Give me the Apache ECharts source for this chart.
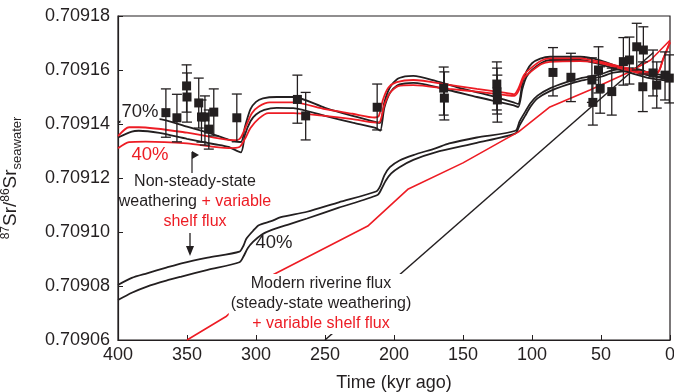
<!DOCTYPE html>
<html>
<head>
<meta charset="utf-8">
<script src="https://cdn.jsdelivr.net/npm/echarts@6/dist/echarts.min.js"></script>
<style>
 html,body{margin:0;padding:0;background:#fff;}
 #chart{width:674px;height:392px;}
</style>
</head>
<body>
<div id="chart"></div>
<script>
// ages in kyr ago, values are 87Sr/86Sr
var ageTicks = [400, 350, 300, 250, 200, 150, 100, 50, 0];
var srTicks = [0.70906, 0.70908, 0.70910, 0.70912, 0.70914, 0.70916, 0.70918];

// non-steady-state weathering + variable shelf flux (upper band)
var nsBlackHi = [[400,0.7091405],[392,0.709142],[371,0.7091419],[350,0.709139],[330,0.709136],[320,0.7091342],[311,0.7091333],[308,0.709139],[304,0.7091455],[300,0.7091482],[295,0.7091495],[285,0.70915],[273,0.70915],[250,0.709146],[230,0.709143],[213,0.7091407],[210,0.7091404],[207,0.709148],[203,0.7091535],[198,0.7091565],[192,0.7091576],[186,0.7091578],[170,0.709156],[150,0.709153],[130,0.7091505],[114,0.7091481],[110,0.7091474],[107,0.709155],[104,0.7091595],[100,0.7091625],[94,0.7091642],[87,0.7091649],[65,0.7091649],[50,0.7091635],[31,0.70916],[15,0.709158],[0,0.709157]];
var nsRedHi = [[400,0.7091355],[392,0.7091388],[385,0.7091388],[350,0.7091368],[320,0.7091341],[314,0.709134],[311,0.709135],[307,0.7091395],[303,0.709144],[298,0.7091465],[290,0.709148],[273,0.709148],[250,0.7091455],[230,0.7091438],[214,0.7091424],[211,0.709143],[208,0.709149],[204,0.7091535],[198,0.7091555],[186,0.7091563],[160,0.7091545],[140,0.709153],[119,0.7091515],[113,0.709151],[110,0.709153],[106,0.709158],[101,0.7091606],[93,0.7091635],[87,0.7091643],[65,0.7091643],[50,0.709163],[31,0.7091607],[19,0.7091593],[9,0.7091593],[5,0.709164],[0,0.70917]];
var nsBlackLo = [[400,0.709135],[390,0.7091372],[385,0.7091375],[370,0.7091367],[350,0.7091345],[330,0.7091325],[320,0.7091315],[311,0.7091295],[308,0.709136],[304,0.709141],[300,0.7091435],[294,0.7091452],[285,0.709146],[273,0.7091459],[250,0.709143],[230,0.7091405],[213,0.7091385],[210,0.7091375],[207,0.709146],[203,0.7091515],[198,0.7091542],[192,0.709155],[186,0.7091552],[160,0.7091525],[140,0.70915],[114,0.709147],[110,0.7091463],[107,0.709153],[104,0.7091575],[100,0.70916],[93,0.7091627],[87,0.7091637],[65,0.7091637],[50,0.709162],[31,0.7091593],[15,0.709157],[0,0.709156]];
var nsRedLo = [[400,0.709131],[392,0.7091333],[380,0.7091335],[350,0.7091328],[320,0.7091311],[312,0.7091315],[308,0.7091345],[304,0.7091385],[298,0.709142],[291,0.709144],[273,0.709144],[250,0.709143],[230,0.7091418],[213,0.7091405],[210,0.709141],[207,0.709147],[203,0.7091515],[197,0.709154],[186,0.7091544],[160,0.709153],[140,0.709152],[119,0.7091507],[113,0.7091504],[110,0.709152],[106,0.709157],[101,0.7091593],[93,0.7091622],[87,0.709163],[65,0.7091633],[50,0.7091625],[31,0.70916],[18,0.7091585],[9,0.7091589],[5,0.709164],[0,0.7091705]];

// lower band (40%)
var lbBlackHi = [[400,0.7090804],[390,0.709083],[379,0.7090847],[365,0.7090868],[354,0.7090884],[335,0.7090905],[312,0.7090927],[309,0.709095],[307,0.7090975],[302,0.7091005],[298,0.7091025],[289,0.709104],[282,0.7091055],[263,0.7091075],[240,0.709111],[213,0.709115],[210,0.709117],[207,0.709121],[203,0.709124],[196,0.7091265],[186,0.7091285],[170,0.709131],[160,0.7091328],[140,0.709135],[112,0.7091375],[109,0.709141],[105,0.7091445],[101,0.7091478],[96,0.7091505],[87,0.7091532],[75,0.7091555],[65,0.7091569],[50,0.7091585],[41,0.70916],[27,0.7091607],[15,0.709159],[0,0.7091575]];
var lbBlackLo = [[400,0.7090748],[390,0.7090775],[379,0.7090798],[365,0.709082],[354,0.7090835],[335,0.709086],[312,0.7090888],[309,0.709091],[306,0.709094],[302,0.7090964],[296,0.709099],[289,0.7091007],[275,0.709103],[263,0.709105],[240,0.709109],[212,0.7091137],[209,0.709116],[206,0.709119],[202,0.7091217],[196,0.709124],[186,0.7091267],[170,0.7091295],[140,0.709133],[112,0.7091365],[109,0.7091395],[105,0.709143],[101,0.7091465],[96,0.7091495],[87,0.7091522],[75,0.7091545],[65,0.709156],[50,0.7091575],[41,0.709159],[27,0.7091597],[15,0.709158],[0,0.7091565]];

// modern riverine flux (steady-state weathering)
var ssBlack = [[250,0.70906],[12,0.7091665]];
var ssRed = [[350,0.70906],[322,0.7090686],[288,0.7090841],[219,0.7091022],[190,0.7091158],[150,0.7091256],[119,0.7091345],[110,0.709137],[87,0.7091463],[58,0.7091526],[31,0.7091589],[14,0.7091637],[0,0.709171]];

// measurements
var ptAge = [365.3,357.3,350.3,350.0,341.5,339.5,337.0,334.2,330.6,313.9,270.0,264.0,212.2,164.0,163.5,125.5,125.3,125.1,84.8,71.8,56.6,55.9,51.8,50.6,42.2,33.8,29.4,24.1,19.3,19.7,12.3,9.6,3.6,0.5];
var ptSr  = [0.7091442,0.7091423,0.7091541,0.70915,0.7091478,0.7091426,0.7091426,0.7091381,0.7091444,0.7091423,0.7091491,0.709143,0.7091462,0.7091533,0.7091496,0.7091548,0.7091519,0.7091489,0.7091591,0.7091573,0.7091563,0.709148,0.70916,0.7091532,0.709152,0.7091631,0.7091637,0.7091686,0.7091674,0.7091538,0.7091589,0.7091544,0.7091581,0.709157];
var ptHi  = [0.709153,0.709151,0.7091619,0.7091589,0.709157,0.7091489,0.7091504,0.7091452,0.709153,0.7091511,0.7091581,0.7091517,0.7091548,0.7091611,0.7091593,0.709163,0.7091607,0.7091581,0.7091683,0.7091662,0.7091645,0.7091563,0.7091686,0.7091612,0.7091607,0.709172,0.7091722,0.7091773,0.709176,0.709163,0.7091674,0.709163,0.7091667,0.7091656];
var ptLo  = [0.7091351,0.7091334,0.7091444,0.7091407,0.7091385,0.7091333,0.7091322,0.7091307,0.7091356,0.7091334,0.7091403,0.7091341,0.7091378,0.7091433,0.7091415,0.7091452,0.7091437,0.7091407,0.7091504,0.7091483,0.709148,0.7091396,0.7091515,0.709144,0.7091433,0.7091544,0.7091548,0.70916,0.7091585,0.7091446,0.7091504,0.7091459,0.7091489,0.7091478];

var BLACK = '#231f20', RED = '#ed1c24';
var FONT = 'Liberation Sans, Arial, Helvetica, sans-serif';

var pts = ptAge.map(function(a, i){ return [a, ptSr[i]]; });
var bars = ptAge.map(function(a, i){ return [a, ptLo[i], ptHi[i]]; });

function curve(data, color){
  return {
    type: 'line', data: data, smooth: 0.25, symbol: 'none',
    lineStyle: {color: color, width: 1.8}, silent: true, z: 3
  };
}

var chart = echarts.init(document.getElementById('chart'));
var option = {
  animation: false,
  grid: {left: 118, right: 4, top: 16, bottom: 52, outerBoundsMode: 'none', containLabel: false,
    show: true, borderColor: BLACK, borderWidth: 1.2},
  xAxis: {
    type: 'value', min: 0, max: 400, interval: 50, inverse: true,
    name: 'Time (kyr ago)', nameLocation: 'middle', nameGap: 34,
    nameTextStyle: {fontSize: 18, color: BLACK, fontFamily: FONT},
    axisLine: {show: true, onZero: false, lineStyle: {color: BLACK, width: 1.2}},
    axisTick: {inside: true, length: 5, lineStyle: {color: BLACK}},
    axisLabel: {fontSize: 18, color: BLACK, fontFamily: FONT, margin: 6,
      formatter: function(v){ return ageTicks.indexOf(v) >= 0 ? String(v) : ''; }},
    splitLine: {show: false}
  },
  yAxis: {
    type: 'value', min: 0.70906, max: 0.70918, interval: 0.00002,
    name: '{sup|87}Sr/{sup|86}Sr{sub|seawater}', nameLocation: 'middle', nameGap: 92, nameRotate: 90,
    nameTextStyle: {fontSize: 19, color: BLACK, fontFamily: FONT, lineHeight: 30,
      rich: {
        sup: {fontSize: 12, color: BLACK, fontFamily: FONT, lineHeight: 12, verticalAlign: 'top', padding: [4, 0, 0, 0]},
        sub: {fontSize: 13, color: BLACK, fontFamily: FONT, lineHeight: 13, verticalAlign: 'bottom', padding: [0, 0, 2, 0]}
      }},
    axisLine: {show: true, onZero: false, lineStyle: {color: BLACK, width: 1.2}},
    axisTick: {inside: true, length: 5, lineStyle: {color: BLACK}},
    axisLabel: {fontSize: 18, color: BLACK, fontFamily: FONT, margin: 8,
      formatter: function(v){
        var s = v.toFixed(5);
        return srTicks.some(function(t){ return t.toFixed(5) === s; }) ? s : '';
      }},
    splitLine: {show: false}
  },
  series: [
    curve(lbBlackHi, BLACK),
    curve(lbBlackLo, BLACK),
    {type: 'line', data: ssBlack, symbol: 'none', lineStyle: {color: BLACK, width: 1.5}, silent: true, z: 3},
    {type: 'line', data: ssRed, symbol: 'none', lineStyle: {color: RED, width: 1.6}, silent: true, z: 3},
    curve(nsBlackHi, BLACK),
    curve(nsBlackLo, BLACK),
    curve(nsRedHi, RED),
    curve(nsRedLo, RED),
    {
      type: 'custom', data: bars, z: 4, silent: true,
      renderItem: function(params, api){
        var lo = api.coord([api.value(0), api.value(1)]);
        var hi = api.coord([api.value(0), api.value(2)]);
        var w = 5, st = {stroke: BLACK, lineWidth: 1.3};
        return {type: 'group', children: [
          {type: 'line', shape: {x1: lo[0], y1: lo[1], x2: hi[0], y2: hi[1]}, style: st},
          {type: 'line', shape: {x1: lo[0]-w, y1: lo[1], x2: lo[0]+w, y2: lo[1]}, style: st},
          {type: 'line', shape: {x1: hi[0]-w, y1: hi[1], x2: hi[0]+w, y2: hi[1]}, style: st}
        ]};
      }
    },
    {type: 'scatter', data: pts, symbol: 'rect', symbolSize: 9, itemStyle: {color: BLACK, opacity: 1}, z: 5, silent: true}
  ],
  graphic: [
    {type: 'text', z: 100, x: 140, y: 112, style: {text: '70%', fill: BLACK, fontSize: 18.5, fontFamily: FONT, align: 'center', verticalAlign: 'middle', backgroundColor: '#fff', padding: [1, 1]}},
    {type: 'text', z: 100, x: 150, y: 155, style: {text: '40%', fill: RED, fontSize: 18.5, fontFamily: FONT, align: 'center', verticalAlign: 'middle'}},
    {type: 'polygon', z: 100, shape: {points: [[192, 151], [199, 155], [192, 159]]}, style: {fill: BLACK}},
    {type: 'line', z: 100, shape: {x1: 192, y1: 152, x2: 192, y2: 173}, style: {stroke: BLACK, lineWidth: 1.2}},
    {type: 'text', z: 100, x: 195, y: 202, style: {
      text: '{k|Non-steady-state}\n{k|weathering }{r|+ variable}\n{r|shelf flux}',
      fontSize: 16, fontFamily: FONT, align: 'center', verticalAlign: 'middle', lineHeight: 20,
      rich: {k: {fill: BLACK, fontSize: 16, fontFamily: FONT, lineHeight: 20}, r: {fill: RED, fontSize: 16, fontFamily: FONT, lineHeight: 20}}}},
    {type: 'line', z: 100, shape: {x1: 190, y1: 233, x2: 190, y2: 250}, style: {stroke: BLACK, lineWidth: 1.3}},
    {type: 'polygon', z: 100, shape: {points: [[186, 246], [194, 246], [190, 256]]}, style: {fill: BLACK}},
    {type: 'text', z: 100, x: 274, y: 243, style: {text: '40%', fill: BLACK, fontSize: 18.5, fontFamily: FONT, align: 'center', verticalAlign: 'middle'}},
    {type: 'text', z: 100, x: 321, y: 304, style: {
      text: '{k|Modern riverine flux}\n{k|(steady-state weathering)}\n{r|+ variable shelf flux}',
      fontSize: 16, fontFamily: FONT, align: 'center', verticalAlign: 'middle', lineHeight: 20,
      backgroundColor: '#fff', padding: [0, 2],
      rich: {k: {fill: BLACK, fontSize: 16, fontFamily: FONT, lineHeight: 20}, r: {fill: RED, fontSize: 16, fontFamily: FONT, lineHeight: 20}}}}
  ]
};
chart.setOption(option);
</script>
</body>
</html>
